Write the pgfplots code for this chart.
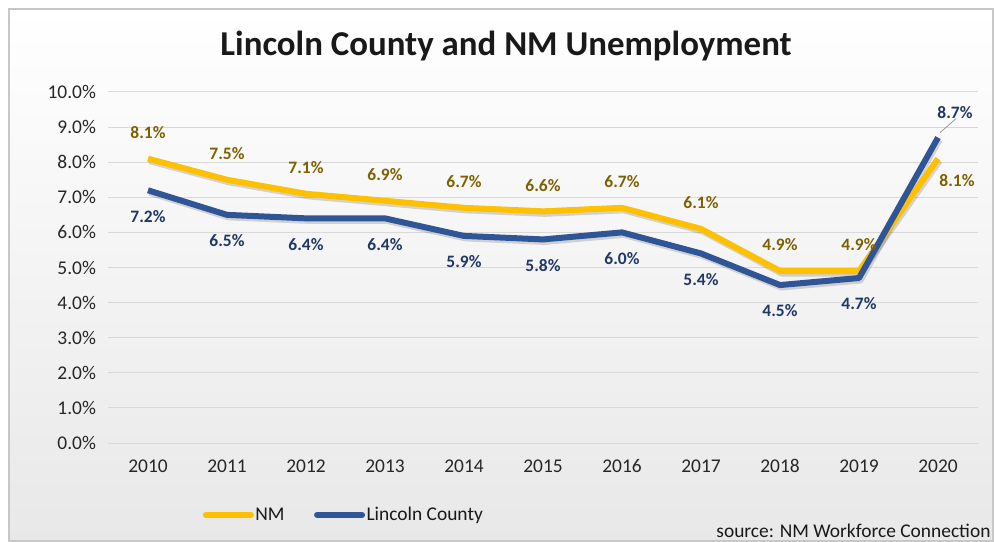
\documentclass[border=0pt]{standalone}
\usepackage{fontspec}
\setmainfont{Carlito}
\usepackage{pgfplots}
\pgfplotsset{compat=1.18}
\definecolor{nmgold}{HTML}{FFC000}
\definecolor{lcblue}{HTML}{2F5597}
\definecolor{nmlab}{HTML}{7F6000}
\definecolor{lclab}{HTML}{203864}
\definecolor{gridc}{HTML}{D9D9D9}
\pgfplotsset{/pgf/number format/assume math mode=true}

\begin{document}
\begin{tikzpicture}
\useasboundingbox (-108.5bp,-99bp) rectangle (886.5bp,443bp);
\fill[white] (-108.5bp,-99bp) rectangle (886.5bp,443bp);
\shade[top color=white, bottom color=black!9, draw=black!22, line width=1.5bp]
  (-99.5bp,-98bp) rectangle (884.5bp,434bp);
\node[font=\bfseries\fontsize{35}{38}\selectfont, text=black!90] at (397.5bp,397bp)
  {Lincoln County and NM Unemployment};
\node[anchor=east, font=\fontsize{19.5}{22}\selectfont, text=black!90] at (885.5bp,-88bp)
  {source: NM Workforce Connection};

\begin{axis}[
    scale only axis,
    width=869bp, height=351bp,
    xmin=-0.5, xmax=10.5,
    ymin=0, ymax=10,
    axis line style={draw=none},
    major tick length=0pt,
    ymajorgrids=true,
    grid style={gridc, line width=1bp},
    xtick={0,1,2,3,4,5,6,7,8,9,10},
    xticklabels={2010,2011,2012,2013,2014,2015,2016,2017,2018,2019,2020},
    ytick={0,1,2,3,4,5,6,7,8,9,10},
    yticklabel={\pgfmathprintnumber[fixed,fixed zerofill,precision=1]{\tick}\%},
    tick label style={font=\fontsize{19.5}{22}\selectfont, text=black!85},
    xticklabel style={yshift=-13bp},
    yticklabel style={xshift=-9bp},
    legend style={at={(0.105,-0.205)}, anchor=west, draw=none, fill=none,
      font=\fontsize{19.5}{22}\selectfont, text=black!90,
      nodes={inner xsep=1.5bp},
      /tikz/every even column/.append style={column sep=28bp}},
    legend columns=2,
    legend image code/.code={\draw[#1, line cap=round] (0bp,0bp) -- (45bp,0bp);},
    nodes near coords={\pgfmathprintnumber[fixed,fixed zerofill,precision=1]{\pgfplotspointmeta}\%},
]
% soft shadows
\addplot[forget plot, black, opacity=0.15, line width=6bp, line join=round, xshift=1.5bp, yshift=-2.5bp, nodes near coords={}]
  coordinates {(0,8.1)(1,7.5)(2,7.1)(3,6.9)(4,6.7)(5,6.6)(6,6.7)(7,6.1)(8,4.9)(9,4.9)(10,8.1)};
\addplot[forget plot, black, opacity=0.15, line width=6bp, line join=round, xshift=1.5bp, yshift=-2.5bp, nodes near coords={}]
  coordinates {(0,7.2)(1,6.5)(2,6.4)(3,6.4)(4,5.9)(5,5.8)(6,6.0)(7,5.4)(8,4.5)(9,4.7)(10,8.7)};

\addplot[nmgold, line width=6bp, line join=round, mark=none,
    nodes near coords style={anchor=center, yshift=26bp, text=nmlab,
      font=\bfseries\fontsize{17.5}{19}\selectfont},
    coordinate style/.condition={\coordindex==10}{xshift=19bp, yshift=-48bp}]
  coordinates {(0,8.1)(1,7.5)(2,7.1)(3,6.9)(4,6.7)(5,6.6)(6,6.7)(7,6.1)(8,4.9)(9,4.9)(10,8.1)};
\addlegendentry{NM}
\addplot[lcblue, line width=6bp, line join=round, mark=none,
    nodes near coords style={anchor=center, yshift=-26bp, text=lclab,
      font=\bfseries\fontsize{17.5}{19}\selectfont},
    coordinate style/.condition={\coordindex==10}{xshift=17bp, yshift=51bp}]
  coordinates {(0,7.2)(1,6.5)(2,6.4)(3,6.4)(4,5.9)(5,5.8)(6,6.0)(7,5.4)(8,4.5)(9,4.7)(10,8.7)};
\addlegendentry{Lincoln County}
\draw[black!40, line width=0.8bp] (axis cs:10,8.7) ++(2bp,5bp) -- ++(16bp,14bp);
\end{axis}
\end{tikzpicture}
\end{document}
